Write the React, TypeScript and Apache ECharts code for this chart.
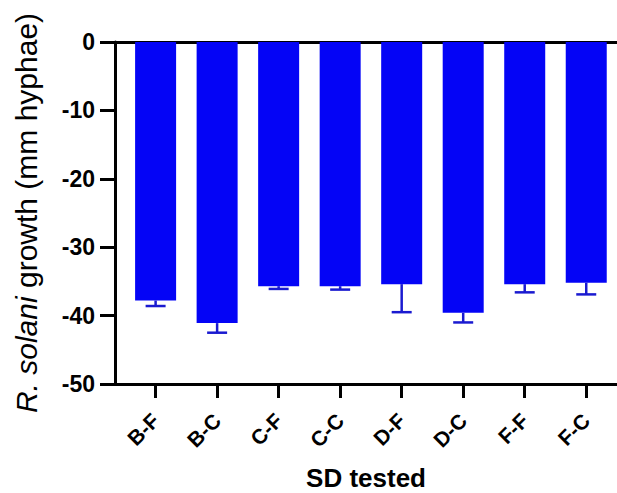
import React, { useEffect, useRef } from "react";
import * as echarts from "echarts";

const categories = ["B-F", "B-C", "C-F", "C-C", "D-F", "D-C", "F-F", "F-C"];
const means = [-37.8, -41.1, -35.7, -35.7, -35.4, -39.6, -35.4, -35.2];
const sds = [0.8, 1.4, 0.4, 0.5, 4.1, 1.4, 1.2, 1.7];
const yTicks = [0, -10, -20, -30, -40, -50];

const FONT = "'Liberation Sans', Arial, Helvetica, sans-serif";
const BAR_COLOR = "#0404f6";
const ERR_COLOR = "#1a1ad0";

export default function App() {
  const ref = useRef<HTMLDivElement>(null);
  useEffect(() => {
    if (!ref.current) return;
    const chart = echarts.init(ref.current, undefined, { renderer: "svg" });
    const positions = categories.map((_, i) => i);
    const barData = means.map((m, i) => [i, m]);
    const errData = means.map((m, i) => [i, m, m - sds[i]]);
    chart.setOption({
      animation: false,
      backgroundColor: "#ffffff",
      grid: { left: 115, right: 0, top: 42, bottom: 109, containLabel: false, outerBoundsMode: "none" },
      xAxis: [
        {
          type: "value",
          min: -0.66,
          max: 7.5,
          position: "bottom",
          name: "SD tested",
          nameLocation: "middle",
          nameGap: 81,
          nameTextStyle: { fontFamily: FONT, fontSize: 26, fontWeight: "bold", color: "#000" },
          axisLine: { show: true, onZero: false, lineStyle: { color: "#000", width: 3 } },
          axisTick: { show: true, customValues: positions, length: 14, lineStyle: { color: "#000", width: 3 } },
          axisLabel: {
            show: true,
            customValues: positions,
            rotate: 45,
            margin: 33,
            fontFamily: FONT,
            fontSize: 21,
            fontWeight: "bold",
            color: "#000",
            formatter: (v: number) => categories[Math.round(v)] ?? "",
          },
          splitLine: { show: false },
        },
        {
          type: "value",
          min: -0.66,
          max: 7.5,
          position: "top",
          axisLine: { show: true, onZero: false, lineStyle: { color: "#000", width: 3 } },
          axisTick: { show: false },
          axisLabel: { show: false },
          splitLine: { show: false },
        },
      ],
      yAxis: {
        type: "value",
        min: -50,
        max: 0,
        interval: 10,
        name: "{i|R. solani} growth (mm hyphae)",
        nameLocation: "middle",
        nameRotate: 90,
        nameGap: 74,
        nameTextStyle: {
          fontFamily: FONT,
          fontSize: 30,
          color: "#000",
          rich: {
            i: { fontFamily: FONT, fontSize: 30, fontStyle: "italic", color: "#000" },
          },
        },
        axisLine: { show: true, onZero: false, lineStyle: { color: "#000", width: 3 } },
        axisTick: { show: true, length: 15, lineStyle: { color: "#000", width: 3 } },
        axisLabel: {
          margin: 20,
          fontFamily: FONT,
          fontSize: 23,
          fontWeight: "bold",
          color: "#000",
          formatter: (v: number) => (yTicks.includes(v) ? String(v) : ""),
        },
        splitLine: { show: false },
      },
      series: [
        {
          type: "bar",
          xAxisIndex: 0,
          data: barData,
          barWidth: 41,
          itemStyle: { color: BAR_COLOR },
          z: 2,
        },
        {
          type: "custom",
          xAxisIndex: 0,
          data: errData,
          z: 3,
          renderItem: (params: any, api: any) => {
            const x = api.value(0);
            const top = api.coord([x, api.value(1)]);
            const bottom = api.coord([x, api.value(2)]);
            const half = 10;
            return {
              type: "group",
              children: [
                {
                  type: "line",
                  shape: { x1: top[0], y1: top[1], x2: bottom[0], y2: bottom[1] },
                  style: { stroke: ERR_COLOR, lineWidth: 2.5 },
                },
                {
                  type: "line",
                  shape: { x1: bottom[0] - half, y1: bottom[1], x2: bottom[0] + half, y2: bottom[1] },
                  style: { stroke: ERR_COLOR, lineWidth: 2.5 },
                },
              ],
            };
          },
        },
      ],
    });
    return () => chart.dispose();
  }, []);
  return (
    <div
      ref={ref}
      style={{ position: "fixed", left: 0, top: 0, width: 617, height: 493, background: "#fff" }}
    />
  );
}
